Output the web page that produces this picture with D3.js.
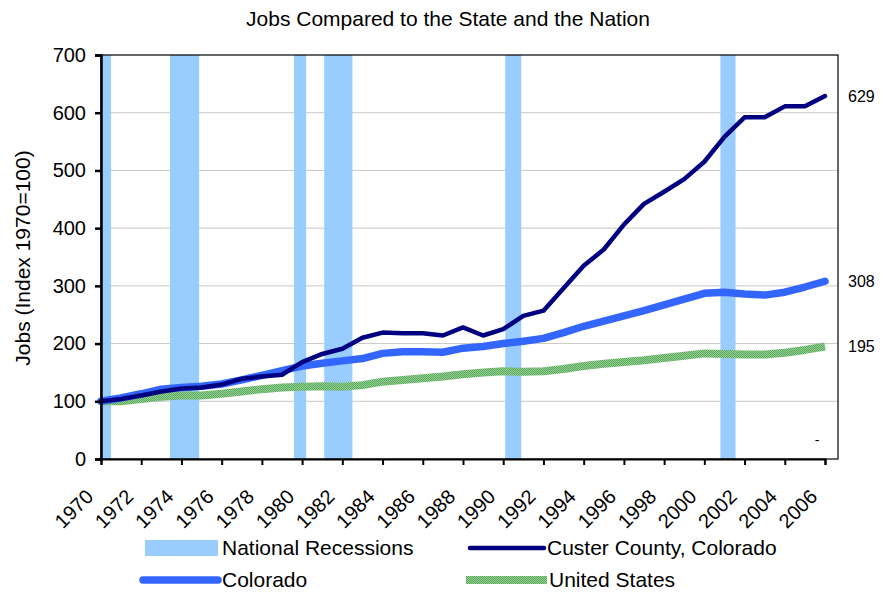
<!DOCTYPE html>
<html>
<head>
<meta charset="utf-8">
<script src="https://cdn.jsdelivr.net/npm/d3@7"></script>
<style>
  html, body { margin: 0; padding: 0; background: #fff; }
  svg { display: block; font-family: "Liberation Sans", Arial, Helvetica, sans-serif; }
</style>
</head>
<body>
<svg id="chart" width="881" height="592"></svg>
<script>
const years = d3.range(1970, 2007);
const custer = [100,104,110,117,122,124,129,139,143,146,168,182,191,210,219,218,218,214,228,214,225,248,257,296,335,363,406,442,463,485,515,558,592,592,611,611,629];
const colorado = [100,106,113,121,124,126,130,137,145,153,161,166,170,174,183,186,186,185,192,195,200,204,209,219,230,239,248,257,267,277,287,289,286,284,289,298,308];
const us = [100,100,104,108,110,110,113,117,121,124,125,126,125,128,134,137,140,143,147,150,152,151,152,156,161,165,168,171,175,179,183,182,181,181,184,189,195];
const recessions = [[1970.0,1970.5],[1973.43,1974.88],[1979.6,1980.2],[1981.1,1982.5],[1990.1,1990.9],[2000.8,2001.55]];
const yTicks = [0,100,200,300,400,500,600,700];
const xTickYears = d3.range(1970, 2007, 2);
const endLabels = [{v:629,t:"629"},{v:308,t:"308"},{v:195,t:"195"}];
const title = "Jobs Compared to the State and the Nation";
const yLabel = "Jobs (Index 1970=100)";

const svg = d3.select("#chart");
const L = 101, R = 838, T = 55, B = 459;
const x = d3.scaleLinear().domain([1970, 2006]).range([101, 825]);
const y = d3.scaleLinear().domain([0, 700]).range([B, T]);

// pattern for US
const defs = svg.append("defs");
const pat = defs.append("pattern").attr("id","usPat").attr("patternUnits","userSpaceOnUse").attr("width",2).attr("height",2);
pat.append("rect").attr("width",2).attr("height",2).attr("fill","#96cf96");
pat.append("rect").attr("width",1).attr("height",1).attr("fill","#5aa85a");
pat.append("rect").attr("x",1).attr("y",1).attr("width",1).attr("height",1).attr("fill","#5aa85a");

// gridlines
svg.append("g").selectAll("line").data(yTicks.filter(d => d > 0 && d < 700)).join("line")
  .attr("x1", L).attr("x2", R).attr("y1", d => y(d)).attr("y2", d => y(d))
  .attr("stroke", "#c8c8c8").attr("stroke-width", 1);

// recessions
svg.append("g").selectAll("rect").data(recessions).join("rect")
  .attr("x", d => x(d[0])).attr("width", d => x(d[1]) - x(d[0]))
  .attr("y", T).attr("height", B - T).attr("fill", "#99ccff");

// frame
svg.append("rect").attr("x", L).attr("y", T).attr("width", R - L).attr("height", B - T)
  .attr("fill", "none").attr("stroke", "#000").attr("stroke-width", 1.2);

const line = d3.line().x((d, i) => x(years[i])).y(d => y(d));

svg.append("path").datum(us).attr("d", line).attr("fill","none")
  .attr("stroke","url(#usPat)").attr("stroke-width", 8).attr("stroke-linejoin","round");
svg.append("path").datum(colorado).attr("d", line).attr("fill","none")
  .attr("stroke","#3366ff").attr("stroke-width", 7.5).attr("stroke-linejoin","round").attr("stroke-linecap","round");
svg.append("path").datum(custer).attr("d", line).attr("fill","none")
  .attr("stroke","#000080").attr("stroke-width", 4.5).attr("stroke-linejoin","round").attr("stroke-linecap","round");

// axes
const yAxis = d3.axisLeft(y).tickValues(yTicks).tickSize(6).tickPadding(9);
const gy = svg.append("g").attr("transform", `translate(${L},0)`).call(yAxis);
gy.select(".domain").attr("stroke","#000").attr("stroke-width", 2.5);
gy.selectAll(".tick line").attr("stroke","#000").attr("stroke-width", 2.5);
gy.selectAll(".tick text").attr("font-size", 20).attr("fill","#000").attr("font-family","Liberation Sans, Arial, sans-serif");

const xAxis = d3.axisBottom(x).tickValues(xTickYears).tickSize(6).tickFormat(d3.format("d"));
const gx = svg.append("g").attr("transform", `translate(0,${B})`).call(xAxis);
gx.select(".domain").attr("stroke","#000").attr("stroke-width", 2);
gx.selectAll(".tick line").attr("stroke","#000").attr("stroke-width", 2);
gx.selectAll(".tick text")
  .attr("font-size", 20).attr("fill","#000").attr("font-family","Liberation Sans, Arial, sans-serif")
  .attr("text-anchor","end").attr("dy", null).attr("y", null)
  .attr("transform", "translate(-7,39) rotate(-45)");

// end labels
svg.append("g").selectAll("text").data(endLabels).join("text")
  .attr("x", 848).attr("y", d => y(d.v)).attr("dy", "0.35em")
  .attr("font-size", 16).text(d => d.t);

// small dash
svg.append("text").attr("x", 817).attr("y", 445).attr("font-size", 14).attr("text-anchor","middle").text("-");

// title
svg.append("text").attr("x", 448).attr("y", 26).attr("text-anchor","middle").attr("font-size", 21).text(title);

// y label
svg.append("text").attr("transform", "translate(30,258) rotate(-90)").attr("text-anchor","middle")
  .attr("font-size", 21).text(yLabel);

// legend
const lg = svg.append("g");
lg.append("rect").attr("x", 145).attr("y", 540).attr("width", 73).attr("height", 16).attr("fill", "#99ccff");
lg.append("text").attr("x", 222).attr("y", 548).attr("dy","0.35em").attr("font-size", 21).text("National Recessions");
lg.append("line").attr("x1", 470).attr("x2", 544).attr("y1", 548).attr("y2", 548).attr("stroke","#000080").attr("stroke-width", 4.5).attr("stroke-linecap","round");
lg.append("text").attr("x", 547).attr("y", 548).attr("dy","0.35em").attr("font-size", 21).text("Custer County, Colorado");
lg.append("line").attr("x1", 143).attr("x2", 218).attr("y1", 580).attr("y2", 580).attr("stroke","#3366ff").attr("stroke-width", 7.5).attr("stroke-linecap","round");
lg.append("text").attr("x", 222).attr("y", 580).attr("dy","0.35em").attr("font-size", 21).text("Colorado");
lg.append("rect").attr("x", 466).attr("y", 576).attr("width", 81).attr("height", 8).attr("fill", "url(#usPat)");
lg.append("text").attr("x", 549).attr("y", 580).attr("dy","0.35em").attr("font-size", 21).text("United States");
</script>
</body>
</html>
